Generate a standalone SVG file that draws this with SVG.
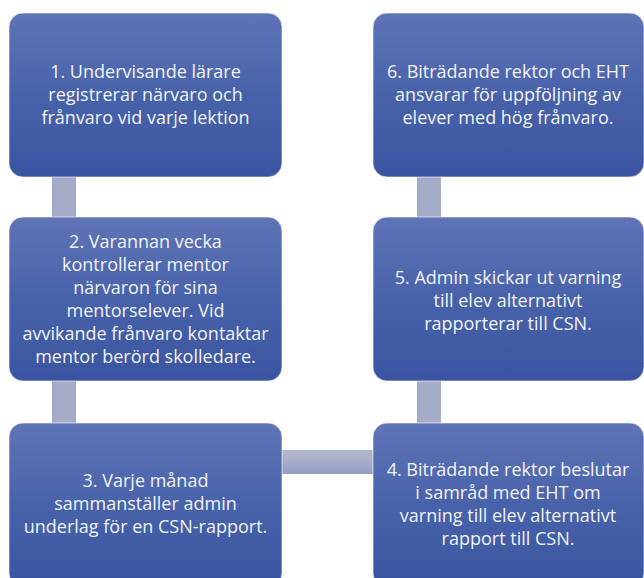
<svg xmlns="http://www.w3.org/2000/svg" width="644" height="578" viewBox="0 0 644 578">
<defs>
<linearGradient id="boxg" x1="0" y1="0" x2="0" y2="1">
<stop offset="0" stop-color="#5f74b6"/>
<stop offset="0.5" stop-color="#4862aa"/>
<stop offset="1" stop-color="#3a54a0"/>
</linearGradient>
<linearGradient id="hcon" x1="0" y1="0" x2="0" y2="1">
<stop offset="0" stop-color="#b4b9d2"/>
<stop offset="1" stop-color="#989fc1"/>
</linearGradient>
<style>
.box{fill:url(#boxg);stroke:#ffffff;stroke-opacity:0.6;stroke-width:1}
.con{fill:#a6acc8}
text{font-family:"Open Sans","Liberation Sans",Arial,sans-serif;font-size:18px;fill:#f2f3f8;text-anchor:middle}
</style>
</defs>
<rect width="644" height="578" fill="#ffffff"/>
<g id="connectors">
<rect class="con" x="52" y="170" width="24" height="54"/>
<rect class="con" x="52" y="374" width="24" height="56"/>
<rect x="275" y="450" width="105" height="24" fill="url(#hcon)"/>
<rect class="con" x="417" y="374" width="24" height="56"/>
<rect class="con" x="417" y="170" width="24" height="54"/>
</g>
<g id="node1">
<rect class="box" x="9" y="13" width="273" height="164" rx="14"/>
<text x="145.5" y="78">1. Undervisande lärare</text>
<text x="145.5" y="101">registrerar närvaro och</text>
<text x="145.5" y="124">frånvaro vid varje lektion</text>
</g>
<g id="node2">
<rect class="box" x="9" y="217" width="273" height="164" rx="14"/>
<text x="145.5" y="248">2. Varannan vecka</text>
<text x="145.5" y="271">kontrollerar mentor</text>
<text x="145.5" y="294">närvaron för sina</text>
<text x="145.5" y="317">mentorselever. Vid</text>
<text x="145.5" y="340">avvikande frånvaro kontaktar</text>
<text x="145.5" y="363">mentor berörd skolledare.</text>
</g>
<g id="node3">
<rect class="box" x="9" y="423" width="273" height="164" rx="14"/>
<text x="145.5" y="487">3. Varje månad</text>
<text x="145.5" y="510">sammanställer admin</text>
<text x="145.5" y="533">underlag för en CSN-rapport.</text>
</g>
<g id="node4">
<rect class="box" x="373" y="423" width="271" height="164" rx="14"/>
<text x="508" y="476">4. Biträdande rektor beslutar</text>
<text x="508" y="499">i samråd med EHT om</text>
<text x="508" y="522">varning till elev alternativt</text>
<text x="508" y="545">rapport till CSN.</text>
</g>
<g id="node5">
<rect class="box" x="373" y="217" width="271" height="164" rx="14"/>
<text x="508" y="284">5. Admin skickar ut varning</text>
<text x="508" y="307">till elev alternativt</text>
<text x="508" y="330">rapporterar till CSN.</text>
</g>
<g id="node6">
<rect class="box" x="373" y="13" width="271" height="164" rx="14"/>
<text x="508" y="78">6. Biträdande rektor och EHT</text>
<text x="508" y="101">ansvarar för uppföljning av</text>
<text x="508" y="124">elever med hög frånvaro.</text>
</g>
</svg>
